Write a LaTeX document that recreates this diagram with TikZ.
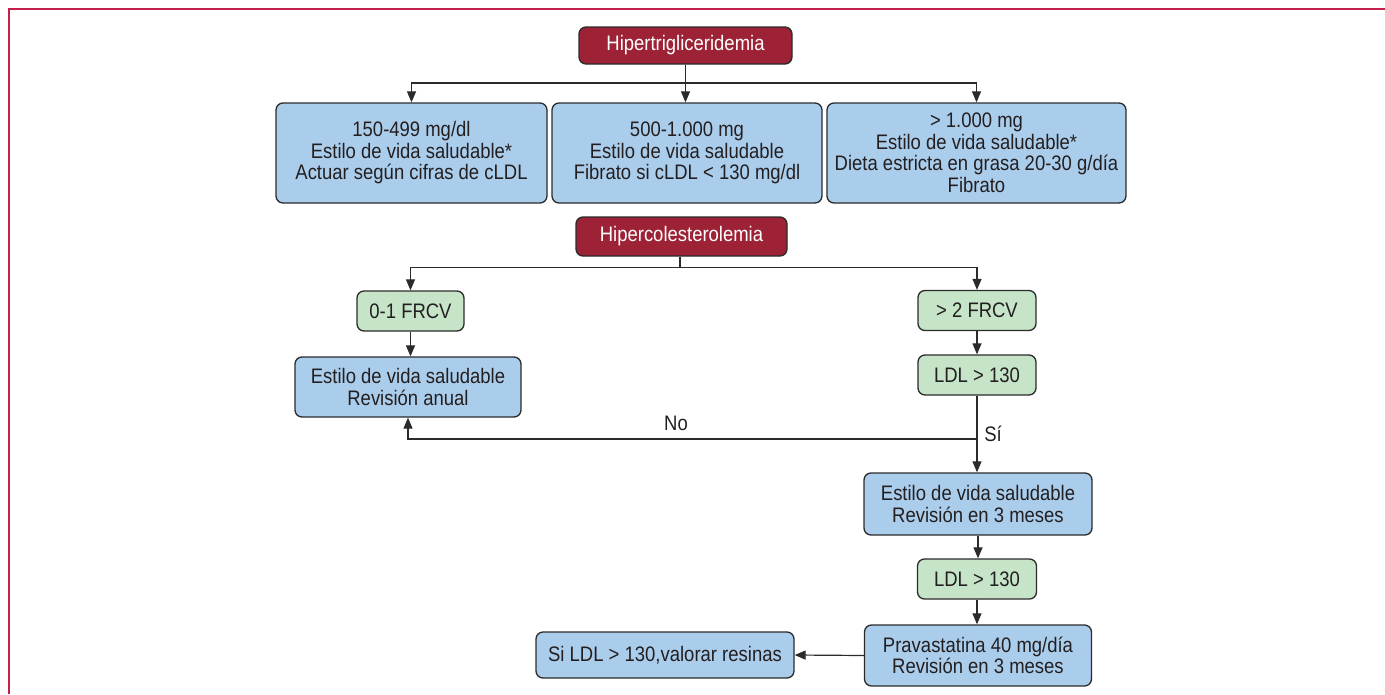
\documentclass[tikz,border=0pt]{standalone}
\usepackage{fontspec}
\setmainfont{Liberation Sans}[FakeStretch=0.88]
\usetikzlibrary{arrows.meta}
\definecolor{boxred}{HTML}{9E2236}
\definecolor{boxblue}{HTML}{ABCDEC}
\definecolor{boxgreen}{HTML}{C6E4C8}
\definecolor{edgegray}{HTML}{2B2B2B}
\definecolor{txtgray}{HTML}{231F20}
\definecolor{framered}{HTML}{C41E4A}
\begin{document}
\begin{tikzpicture}[x=1pt,y=-1pt,
  basebox/.style={draw=edgegray, line width=1.3pt, rounded corners=7pt, inner sep=0pt,
     align=center, font=\fontsize{21}{21.5}\selectfont, text=txtgray},
  redbox/.style={basebox, fill=boxred, text=white},
  bluebox/.style={basebox, fill=boxblue},
  greenbox/.style={basebox, fill=boxgreen},
  conn/.style={draw=edgegray, line width=1.2pt},
  arr/.style={conn, -{Triangle[length=11pt,width=9pt]}},
  lbl/.style={font=\fontsize{21}{21.5}\selectfont, text=txtgray, inner sep=0pt}]
\useasboundingbox (0,0) rectangle (1385,694);
\draw[framered, line width=1.6pt] (9,694) -- (9,9) -- (1385,9);

% nodes
\node[redbox, minimum width=213pt, minimum height=37pt] (ht) at (685.5,45.5) {Hipertrigliceridemia};
\node[bluebox, minimum width=271pt, minimum height=100pt] (b1) at (411.5,153)
  {150-499 mg/dl\\Estilo de vida saludable*\\Actuar según cifras de cLDL};
\node[bluebox, minimum width=270pt, minimum height=100pt] (b2) at (687,153)
  {500-1.000 mg\\Estilo de vida saludable\\Fibrato si cLDL < 130 mg/dl};
\node[bluebox, minimum width=299pt, minimum height=100pt] (b3) at (976.5,153)
  {> 1.000 mg\\Estilo de vida saludable*\\Dieta estricta en grasa 20-30 g/día\\Fibrato};
\node[redbox, minimum width=211pt, minimum height=39pt] (hc) at (681.5,236.5) {Hipercolesterolemia};
\node[greenbox, minimum width=107pt, minimum height=40pt] (f01) at (410.5,311) {0-1 FRCV};
\node[bluebox, minimum width=226pt, minimum height=60pt] (ea) at (408,387)
  {Estilo de vida saludable\\Revisión anual};
\node[greenbox, minimum width=118pt, minimum height=40pt] (f2) at (977,310.5) {> 2 FRCV};
\node[greenbox, minimum width=118pt, minimum height=40pt] (ldl1) at (977,375) {LDL > 130};
\node[bluebox, minimum width=228pt, minimum height=62pt] (e3) at (978,504)
  {Estilo de vida saludable\\Revisión en 3 meses};
\node[greenbox, minimum width=119pt, minimum height=40pt] (ldl2) at (977,579) {LDL > 130};
\node[bluebox, minimum width=227pt, minimum height=61pt] (pr) at (978,655.5)
  {Pravastatina 40 mg/día\\Revisión en 3 meses};
\node[bluebox, minimum width=258pt, minimum height=46pt] (si) at (665,655)
  {Si LDL > 130,valorar resinas};

% connectors
\coordinate (j1) at (685.5,83);
\draw[conn] (ht.south) -- (j1);
\draw[arr] (j1) -| (b1.north);
\draw[arr] (j1) -- (j1 |- b2.north);
\draw[arr] (j1) -| (b3.north);

\coordinate (j2) at (680,267.5);
\draw[conn] (hc.south -| j2) -- (j2);
\draw[arr] (j2) -| (f01.north);
\draw[arr] (j2) -| (f2.north);

\draw[arr] (f01.south) -- (f01.south |- ea.north);
\draw[arr] (f2.south) -- (ldl1.north);

\coordinate (jn) at (977,439);
\draw[conn] (ldl1.south) -- (jn);
\draw[arr] (jn) -- (jn |- e3.north);
\draw[arr] (jn) -| (ea.south);
\node[lbl] (no) at (676,423) {No};
\node[lbl] (sy) at (993,434) {Sí};

\draw[arr] (e3.south) -- (e3.south |- ldl2.north);
\draw[arr] (ldl2.south) -- (ldl2.south |- pr.north);
\draw[arr] (pr.west) -- (si.east);
\end{tikzpicture}
\end{document}
